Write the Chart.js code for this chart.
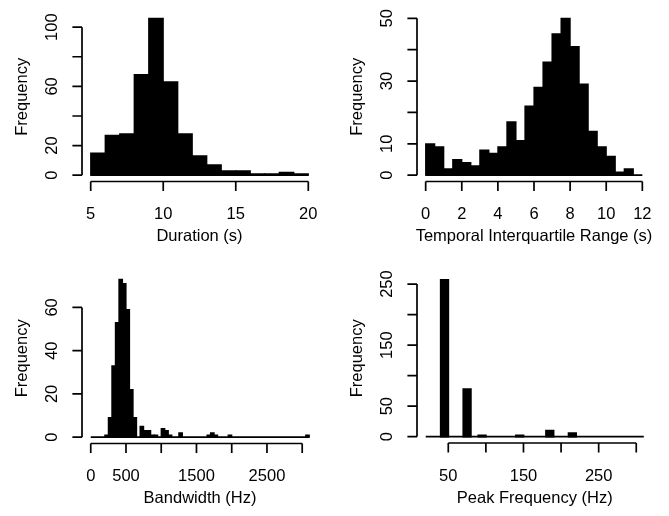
<!DOCTYPE html>
<html>
<head>
<meta charset="utf-8">
<title>Call feature histograms</title>
<script src="https://cdn.jsdelivr.net/npm/chart.js@4.4.1/dist/chart.umd.min.js"></script>
<style>
  html, body { margin: 0; padding: 0; background: #fff; }
  #wrap { position: relative; width: 669px; height: 516px; }
  #wrap canvas { position: absolute; left: 0; top: 0; }
</style>
</head>
<body>
<div id="wrap">
  <canvas id="durationChart" width="669" height="516"></canvas>
  <canvas id="iqrChart" width="669" height="516"></canvas>
  <canvas id="bandwidthChart" width="669" height="516"></canvas>
  <canvas id="peakChart" width="669" height="516"></canvas>
</div>
<script>
// Duration (s): 1 s bins starting at 5
const durationBinStart = 5;
const durationBinWidth = 1;
const durationCounts = [15, 27, 28, 68, 106, 63, 28, 13, 7, 3, 3, 1, 1, 2, 1];
const durationXTicks = [5, 10, 15, 20];
const durationXLabels = [5, 10, 15, 20];
const durationYTicks = [0, 20, 40, 60, 80, 100];
const durationYLabels = [0, 20, 60, 100];

// Temporal interquartile range (s): 0.5 s bins starting at 0
const iqrBinStart = 0;
const iqrBinWidth = 0.5;
const iqrCounts = [10, 9, 2, 5, 4, 3, 8, 7, 9, 17, 11, 22, 28, 36, 45, 50, 41, 29, 14, 9, 6, 1, 2, 0];
const iqrXTicks = [0, 2, 4, 6, 8, 10, 12];
const iqrXLabels = [0, 2, 4, 6, 8, 10, 12];
const iqrYTicks = [0, 10, 20, 30, 40, 50];
const iqrYLabels = [0, 10, 30, 50];

// Bandwidth (Hz): 50 Hz bins starting at 0
const bandwidthBinStart = 0;
const bandwidthBinWidth = 50;
const bandwidthCounts = [
  0, 0, 0, 0, 1, 9, 33, 53, 73, 71,
  59, 22, 9, 0, 5, 3, 3, 1, 1, 0,
  4, 3, 1, 0, 0, 2, 0, 0, 0, 0,
  0, 0, 0, 1, 2, 1, 0, 0, 0, 1,
  0, 0, 0, 0, 0, 0, 0, 0, 0, 0,
  0, 0, 0, 0, 0, 0, 0, 0, 0, 0,
  0, 1
];
const bandwidthXTicks = [0, 500, 1000, 1500, 2000, 2500, 3000];
const bandwidthXLabels = [0, 500, 1500, 2500];
const bandwidthYTicks = [0, 20, 40, 60];
const bandwidthYLabels = [0, 20, 40, 60];

// Peak frequency (Hz): 10 Hz bins starting at 20
const peakBinStart = 20;
const peakBinWidth = 10;
const peakCounts = [
  0, 0, 257, 0, 0, 78, 0, 2, 0, 0,
  0, 0, 2, 0, 0, 0, 10, 0, 0, 6,
  0, 0, 0, 0, 0, 0, 0, 0, 0
];
const peakXTicks = [50, 100, 150, 200, 250, 300];
const peakXLabels = [50, 150, 250];
const peakYTicks = [0, 50, 100, 150, 200, 250];
const peakYLabels = [0, 50, 150, 250];

const FONT = '16.5px "Liberation Sans", Arial, Helvetica, sans-serif';
const TICK_LEN = 9.6;

// draws base-R style axes: lines only span the tick range, labels parallel to the axis
const rAxes = {
  id: 'rAxes',
  afterDraw(chart, args, opts) {
    const { ctx, chartArea: area } = chart;
    const x = chart.scales.x, y = chart.scales.y;
    ctx.save();
    ctx.strokeStyle = '#000';
    ctx.fillStyle = '#000';
    ctx.lineWidth = 1.7;
    ctx.font = FONT;
    ctx.textAlign = 'center';
    ctx.textBaseline = 'middle';

    // x axis
    const xb = area.bottom;
    ctx.beginPath();
    ctx.moveTo(x.getPixelForValue(opts.xTicks[0]), xb);
    ctx.lineTo(x.getPixelForValue(opts.xTicks[opts.xTicks.length - 1]), xb);
    opts.xTicks.forEach(v => {
      const px = x.getPixelForValue(v);
      ctx.moveTo(px, xb);
      ctx.lineTo(px, xb + TICK_LEN);
    });
    ctx.stroke();
    opts.xLabels.forEach(v => ctx.fillText(String(v), x.getPixelForValue(v), xb + 33));
    ctx.fillText(opts.xTitle, (area.left + area.right) / 2, xb + 55);

    // y axis
    const yl = area.left;
    ctx.beginPath();
    ctx.moveTo(yl, y.getPixelForValue(opts.yTicks[0]));
    ctx.lineTo(yl, y.getPixelForValue(opts.yTicks[opts.yTicks.length - 1]));
    opts.yTicks.forEach(v => {
      const py = y.getPixelForValue(v);
      ctx.moveTo(yl, py);
      ctx.lineTo(yl - TICK_LEN, py);
    });
    ctx.stroke();
    opts.yLabels.forEach(v => {
      ctx.save();
      ctx.translate(yl - 29.5, y.getPixelForValue(v));
      ctx.rotate(-Math.PI / 2);
      ctx.fillText(String(v), 0, 0);
      ctx.restore();
    });
    ctx.save();
    ctx.translate(yl - 60, (area.top + area.bottom) / 2);
    ctx.rotate(-Math.PI / 2);
    ctx.fillText(opts.yTitle, 0, 0);
    ctx.restore();

    ctx.restore();
  }
};

function makeHist(canvasId, hist) {
  const binEnd = hist.start + hist.width * hist.counts.length;
  const bars = hist.counts.map((c, i) => ({ x: hist.start + hist.width * (i + 0.5), y: c }));
  const maxCount = Math.max(...hist.counts);
  const xPad = 0.04 * (binEnd - hist.start);

  return new Chart(document.getElementById(canvasId), {
    type: 'bar',
    data: {
      datasets: [
        {
          type: 'bar',
          data: bars,
          backgroundColor: '#000',
          borderWidth: 0,
          barPercentage: 1,
          categoryPercentage: 1,
          // widen drawn bars a little, like R's 1px bar outline; empty bins stay flat
          inflateAmount: c => (c.raw && c.raw.y > 0 ? hist.inflate : 0)
        },
        {
          // zero-height bins show as a line along the base, like R's hist()
          type: 'line',
          data: [{ x: hist.start, y: 0 }, { x: binEnd, y: 0 }],
          borderColor: '#000',
          borderWidth: 1.7,
          pointRadius: 0
        }
      ]
    },
    options: {
      responsive: false,
      animation: false,
      devicePixelRatio: 1,
      layout: { padding: hist.padding },
      scales: {
        x: {
          type: 'linear',
          display: false,
          offset: false,
          min: hist.start - xPad,
          max: binEnd + xPad,
          afterBuildTicks: s => { s.ticks = hist.xTicks.map(v => ({ value: v })); }
        },
        y: {
          type: 'linear',
          display: false,
          min: -0.04 * maxCount,
          max: 1.04 * maxCount
        }
      },
      plugins: {
        legend: { display: false },
        tooltip: { enabled: false },
        rAxes: {
          xTicks: hist.xTicks, xLabels: hist.xLabels,
          yTicks: hist.yTicks, yLabels: hist.yLabels,
          xTitle: hist.xTitle, yTitle: 'Frequency'
        }
      }
    },
    plugins: [rAxes]
  });
}

makeHist('durationChart', {
  start: durationBinStart, width: durationBinWidth, counts: durationCounts,
  xTicks: durationXTicks, xLabels: durationXLabels,
  yTicks: durationYTicks, yLabels: durationYLabels,
  xTitle: 'Duration (s)', inflate: 0.6,
  padding: { left: 82, right: 669 - 317, top: 12, bottom: 516 - 181.5 }
});

makeHist('iqrChart', {
  start: iqrBinStart, width: iqrBinWidth, counts: iqrCounts,
  xTicks: iqrXTicks, xLabels: iqrXLabels,
  yTicks: iqrYTicks, yLabels: iqrYLabels,
  xTitle: 'Temporal Interquartile Range (s)', inflate: 0.6,
  padding: { left: 417, right: 669 - 651, top: 12, bottom: 516 - 181.5 }
});

makeHist('bandwidthChart', {
  start: bandwidthBinStart, width: bandwidthBinWidth, counts: bandwidthCounts,
  xTicks: bandwidthXTicks, xLabels: bandwidthXLabels,
  yTicks: bandwidthYTicks, yLabels: bandwidthYLabels,
  xTitle: 'Bandwidth (Hz)', inflate: 0.6,
  padding: { left: 82, right: 669 - 318, top: 273, bottom: 516 - 443.5 }
});

makeHist('peakChart', {
  start: peakBinStart, width: peakBinWidth, counts: peakCounts,
  xTicks: peakXTicks, xLabels: peakXLabels,
  yTicks: peakYTicks, yLabels: peakYLabels,
  xTitle: 'Peak Frequency (Hz)', inflate: 0.9,
  padding: { left: 417, right: 669 - 652.5, top: 273.5, bottom: 516 - 443 }
});
</script>
</body>
</html>
